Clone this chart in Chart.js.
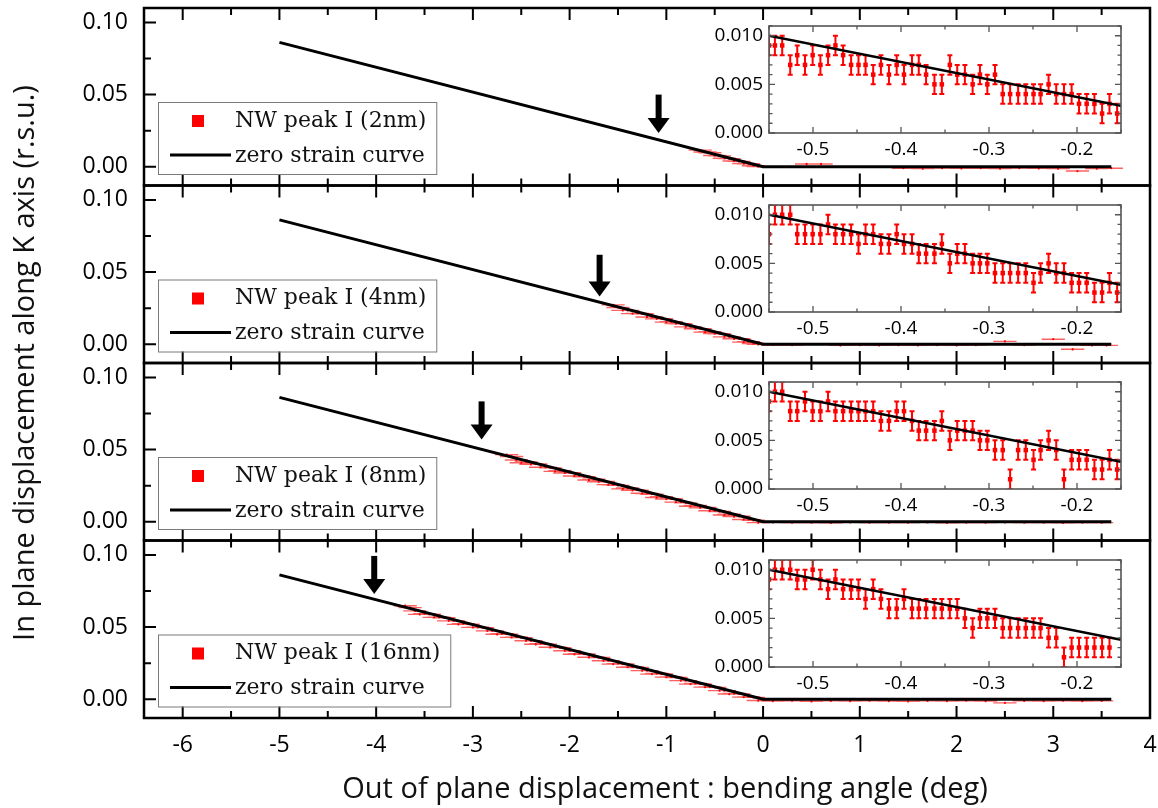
<!DOCTYPE html>
<html>
<head>
<meta charset="utf-8">
<title>NW peak I - in plane vs out of plane displacement</title>
<script src="https://cdn.jsdelivr.net/npm/chart.js@4.4.1/dist/chart.umd.min.js"></script>
<style>
  html, body { margin: 0; padding: 0; background: #fff; }
  #wrap { position: relative; width: 1158px; height: 808px; overflow: hidden; }
  #wrap canvas { position: absolute; }
</style>
</head>
<body>
<div id="wrap">
  <canvas id="main" width="1158" height="808" style="left:0;top:0"></canvas>
  <canvas id="inset0" width="440" height="143"></canvas>
  <canvas id="inset1" width="440" height="143"></canvas>
  <canvas id="inset2" width="440" height="143"></canvas>
  <canvas id="inset3" width="440" height="143"></canvas>
</div>
<script>
// ---- data ----
const peakLabels = ['NW peak I (2nm)', 'NW peak I (4nm)', 'NW peak I (8nm)', 'NW peak I (16nm)'];
const curveLabel = 'zero strain curve';
const xAxisTitle = 'Out of plane displacement : bending angle (deg)';
const yAxisTitle = 'In plane displacement along K axis (r.s.u.)';

const mainXTicks = [-6, -5, -4, -3, -2, -1, 0, 1, 2, 3, 4];
const mainYTicks = [0, 0.05, 0.10];
const insetXTicks = [-0.5, -0.4, -0.3, -0.2];
const insetYTicks = [0, 0.005, 0.010];

// zero strain curve (main panels)
const curveX = [-5, 0, 3.6];
const curveY = [0.0862, 0, 0];

// measured points, main panels (deg, r.s.u.)
const x2nm = [-0.65, -0.60, -0.55, -0.50, -0.45, -0.40, -0.35, -0.30, -0.25, -0.20, -0.15, -0.10, -0.05,
  0.45, 0.6, 1.45, 1.65, 1.85, 2.05, 2.25, 2.45, 2.65, 2.85, 3.05, 3.25, 3.45, 3.6];
const y2nm = [0.0115, 0.0102, 0.0097, 0.0078, 0.0075, 0.0059, 0.0056, 0.0040, 0.0037, 0.0022, 0.0021, 0.0007, 0.0001,
  0.0019, 0.0019, -0.0010, -0.0012, -0.0009, -0.0011, -0.0010, -0.0012, -0.0009, -0.0011, -0.0013, -0.0030, -0.0012, -0.0010];

const x4nm = [-1.55, -1.50, -1.45, -1.40, -1.35, -1.30, -1.25, -1.20, -1.15, -1.10, -1.05, -1.00, -0.95, -0.90, -0.85, -0.80,
  -0.75, -0.70, -0.65, -0.60, -0.55, -0.50, -0.45, -0.40, -0.35, -0.30, -0.25, -0.20, -0.15, -0.10, -0.05,
  0.1, 0.3, 0.8, 1.0, 1.2, 1.4, 1.6, 1.8, 2.0, 2.2, 2.5, 2.7, 3.0, 3.2, 3.4, 3.55];
const y4nm = [0.0273, 0.0255, 0.0235, 0.0235, 0.0212, 0.0214, 0.0211, 0.0189, 0.0189, 0.0176, 0.0177, 0.0153, 0.0156, 0.0143, 0.0142, 0.0120,
  0.0120, 0.0107, 0.0108, 0.0084, 0.0087, 0.0074, 0.0073, 0.0051, 0.0051, 0.0038, 0.0039, 0.0015, 0.0018, 0.0005, -0.0001,
  -0.0005, -0.0006, -0.0008, -0.0006, -0.0008, -0.0006, -0.0007, -0.0006, -0.0008, -0.0006, 0.0020, -0.0006, 0.0035, -0.0035, -0.0008, -0.0008];

const x8nm = [-2.65, -2.60, -2.55, -2.50, -2.45, -2.40, -2.35, -2.30, -2.25, -2.20, -2.15, -2.10, -2.05, -2.00,
  -1.95, -1.90, -1.85, -1.80, -1.75, -1.70, -1.65, -1.60, -1.55, -1.50, -1.45, -1.40, -1.35, -1.30, -1.25, -1.20,
  -1.15, -1.10, -1.05, -1.00, -0.95, -0.90, -0.85, -0.80, -0.75, -0.70, -0.65, -0.60, -0.55, -0.50, -0.45, -0.40,
  -0.35, -0.30, -0.25, -0.20, -0.15, -0.10, -0.05,
  0.1, 0.3, 0.5, 0.7, 0.9, 1.1, 1.3, 1.5, 1.7, 1.9, 2.1, 2.3, 2.5, 2.7, 2.9, 3.1, 3.3, 3.5];
const y8nm = [0.0465, 0.0452, 0.0428, 0.0409, 0.0415, 0.0398, 0.0400, 0.0378, 0.0377, 0.0373, 0.0349, 0.0354, 0.0338, 0.0340,
  0.0317, 0.0317, 0.0312, 0.0289, 0.0294, 0.0277, 0.0280, 0.0257, 0.0256, 0.0252, 0.0228, 0.0234, 0.0217, 0.0219, 0.0197, 0.0196,
  0.0191, 0.0168, 0.0173, 0.0157, 0.0159, 0.0136, 0.0136, 0.0131, 0.0107, 0.0113, 0.0096, 0.0099, 0.0076, 0.0075, 0.0071, 0.0047,
  0.0052, 0.0036, 0.0038, 0.0016, 0.0015, 0.0010, -0.0006,
  -0.0004, -0.0006, -0.0005, -0.0007, -0.0004, -0.0006, -0.0005, -0.0006, -0.0004, -0.0007, -0.0005, -0.0006, -0.0004, -0.0006, -0.0005, -0.0007, -0.0005, -0.0006];

const x16nm = [-3.70, -3.65, -3.60, -3.55, -3.50, -3.45, -3.40, -3.35, -3.30, -3.25, -3.20, -3.15, -3.10, -3.05, -3.00,
  -2.95, -2.90, -2.85, -2.80, -2.75, -2.70, -2.65, -2.60, -2.55, -2.50, -2.45, -2.40, -2.35, -2.30, -2.25, -2.20,
  -2.15, -2.10, -2.05, -2.00, -1.95, -1.90, -1.85, -1.80, -1.75, -1.70, -1.65, -1.60, -1.55, -1.50, -1.45, -1.40,
  -1.35, -1.30, -1.25, -1.20, -1.15, -1.10, -1.05, -1.00, -0.95, -0.90, -0.85, -0.80, -0.75, -0.70, -0.65, -0.60,
  -0.55, -0.50, -0.45, -0.40, -0.35, -0.30, -0.25, -0.20, -0.15, -0.10, -0.05,
  0.1, 0.3, 0.5, 0.7, 0.9, 1.1, 1.3, 1.5, 1.7, 1.9, 2.1, 2.3, 2.5, 2.7, 2.9, 3.1, 3.3, 3.5];
const y16nm = [0.0648, 0.0635, 0.0612, 0.0588, 0.0592, 0.0589, 0.0567, 0.0568, 0.0565, 0.0543, 0.0543, 0.0519, 0.0523, 0.0520, 0.0498,
  0.0499, 0.0496, 0.0474, 0.0474, 0.0450, 0.0454, 0.0451, 0.0429, 0.0430, 0.0427, 0.0405, 0.0405, 0.0381, 0.0385, 0.0382, 0.0360,
  0.0361, 0.0358, 0.0336, 0.0336, 0.0312, 0.0316, 0.0313, 0.0291, 0.0292, 0.0289, 0.0267, 0.0267, 0.0243, 0.0247, 0.0244, 0.0222,
  0.0223, 0.0220, 0.0198, 0.0198, 0.0174, 0.0178, 0.0175, 0.0153, 0.0154, 0.0151, 0.0129, 0.0129, 0.0105, 0.0109, 0.0106, 0.0084,
  0.0085, 0.0082, 0.0060, 0.0060, 0.0036, 0.0040, 0.0037, 0.0015, 0.0016, 0.0013, -0.0009,
  -0.0012, -0.0010, -0.0014, -0.0011, -0.0013, -0.0010, -0.0012, -0.0015, -0.0011, -0.0013, -0.0010, -0.0012, -0.0025, -0.0011, -0.0013, -0.0010, -0.0012, -0.0011];

const mainXErr = 0.12;
const mainYErr = 0.0008;

// arrows marking the onset (deg, r.s.u.)
const arrowX = [-1.08, -1.69, -2.91, -4.02];
const arrowTop = [0.050, 0.062, 0.0834, 0.0993];
const arrowTip = [0.0234, 0.033, 0.057, 0.073];

// insets
const insetX = [-0.550, -0.5433, -0.5350, -0.5259, -0.5179, -0.5091, -0.5004, -0.4916, -0.4829, -0.4745,
  -0.4658, -0.4567, -0.4483, -0.4403, -0.4316, -0.4228, -0.4137, -0.4049, -0.3966, -0.3875,
  -0.3798, -0.3715, -0.3620, -0.3536, -0.3445, -0.3361, -0.3274, -0.3186, -0.3103, -0.3019,
  -0.2932, -0.2844, -0.2760, -0.2669, -0.2582, -0.2494, -0.2414, -0.2323, -0.2236, -0.2148,
  -0.2061, -0.1977, -0.1890, -0.1802, -0.1715, -0.1631, -0.1544];
const inset2nm = [0.009, 0.009, 0.009, 0.007, 0.008, 0.007, 0.008, 0.007, 0.008, 0.009,
  0.008, 0.007, 0.007, 0.007, 0.006, 0.007, 0.006, 0.007, 0.006, 0.007,
  0.007, 0.006, 0.005, 0.005, 0.007, 0.006, 0.006, 0.005, 0.006, 0.005,
  0.006, 0.004, 0.004, 0.004, 0.004, 0.004, 0.004, 0.005, 0.004, 0.004,
  0.004, 0.003, 0.003, 0.003, 0.002, 0.003, 0.002];
const inset4nm = [0.008, 0.010, 0.010, 0.010, 0.008, 0.008, 0.008, 0.008, 0.009, 0.008,
  0.008, 0.008, 0.007, 0.008, 0.008, 0.007, 0.007, 0.008, 0.007, 0.007,
  0.006, 0.006, 0.006, 0.007, 0.005, 0.006, 0.006, 0.005, 0.005, 0.005,
  0.004, 0.004, 0.004, 0.004, 0.004, 0.003, 0.004, 0.005, 0.004, 0.004,
  0.003, 0.003, 0.003, 0.002, 0.002, 0.003, 0.002];
const inset8nm = [0.009, 0.010, 0.010, 0.008, 0.008, 0.009, 0.008, 0.008, 0.009, 0.008,
  0.008, 0.008, 0.008, 0.008, 0.008, 0.007, 0.007, 0.008, 0.008, 0.007,
  0.006, 0.006, 0.006, 0.007, 0.005, 0.006, 0.006, 0.006, 0.005, 0.005,
  0.004, 0.004, 0.001, 0.004, 0.004, 0.003, 0.004, 0.005, 0.004, 0.001,
  0.003, 0.003, 0.003, 0.002, 0.002, 0.003, 0.002];
const inset16nm = [0.009, 0.010, 0.010, 0.010, 0.009, 0.009, 0.010, 0.009, 0.008, 0.009,
  0.008, 0.008, 0.008, 0.007, 0.008, 0.007, 0.006, 0.006, 0.007, 0.006,
  0.006, 0.006, 0.006, 0.006, 0.006, 0.006, 0.005, 0.004, 0.005, 0.005,
  0.005, 0.004, 0.004, 0.004, 0.004, 0.004, 0.004, 0.003, 0.003, 0.001,
  0.002, 0.002, 0.002, 0.002, 0.002, 0.002];
const insetErr = 0.001;
const insetCurveX = [-0.55, -0.15];
const insetCurveY = [0.0100, 0.0028];

const panelX = [x2nm, x4nm, x8nm, x16nm];
const panelY = [y2nm, y4nm, y8nm, y16nm];
const insetY = [inset2nm, inset4nm, inset8nm, inset16nm];

// ---- drawing helpers ----
Chart.defaults.font.family = "'Open Sans', sans-serif";
Chart.defaults.color = '#000';
Chart.defaults.animation = false;

const errorBars = {
  id: 'errorBars',
  beforeDatasetDraw(chart, args) {
    const ds = chart.data.datasets[args.index];
    if (!ds.err) return;
    const xs = chart.scales[args.meta.xAxisID];
    const ys = chart.scales[args.meta.yAxisID];
    const ca = chart.chartArea;
    const ctx = chart.ctx;
    ctx.save();
    ctx.beginPath();
    ctx.rect(ca.left, ca.top, ca.right - ca.left, ca.bottom - ca.top);
    ctx.clip();
    ctx.strokeStyle = ds.err.color;
    ctx.lineWidth = ds.err.width;
    ctx.beginPath();
    ds.data.forEach(d => {
      const px = xs.getPixelForValue(d.x);
      const py = ys.getPixelForValue(d.y);
      if (ds.err.x) {
        ctx.moveTo(xs.getPixelForValue(d.x - ds.err.x), py);
        ctx.lineTo(xs.getPixelForValue(d.x + ds.err.x), py);
      }
      if (ds.err.y) {
        const a = ys.getPixelForValue(d.y - ds.err.y);
        const b = ys.getPixelForValue(d.y + ds.err.y);
        ctx.moveTo(px, a); ctx.lineTo(px, b);
        if (ds.err.cap) {
          ctx.moveTo(px - ds.err.cap, a); ctx.lineTo(px + ds.err.cap, a);
          ctx.moveTo(px - ds.err.cap, b); ctx.lineTo(px + ds.err.cap, b);
        }
      }
    });
    ctx.stroke();
    ctx.restore();
  }
};

// frame with inward major/minor ticks
function drawFrame(ctx, xs, ys, o) {
  const l = xs.left, r = xs.right, t = ys.top, b = ys.bottom;
  ctx.save();
  ctx.strokeStyle = o.color;
  ctx.lineWidth = o.tickWidth;
  ctx.beginPath();
  const n0 = Math.ceil(xs.min / o.xMinor - 1e-6), n1 = Math.floor(xs.max / o.xMinor + 1e-6);
  for (let n = n0; n <= n1; n++) {
    const v = n * o.xMinor;
    const px = xs.getPixelForValue(v);
    const major = Math.abs(v / o.xMajor - Math.round(v / o.xMajor)) < 1e-6;
    const len = major ? o.major : o.minor;
    ctx.moveTo(px, t); ctx.lineTo(px, t + len);
    ctx.moveTo(px, b); ctx.lineTo(px, b - len);
  }
  const m0 = Math.ceil(ys.min / o.yMinor - 1e-6), m1 = Math.floor(ys.max / o.yMinor + 1e-6);
  for (let n = m0; n <= m1; n++) {
    const v = n * o.yMinor;
    const py = ys.getPixelForValue(v);
    const major = Math.abs(v / o.yMajor - Math.round(v / o.yMajor)) < 1e-6;
    const len = major ? o.major : o.minor;
    ctx.moveTo(l, py); ctx.lineTo(l + len, py);
    if (o.right) { ctx.moveTo(r, py); ctx.lineTo(r - len, py); }
  }
  ctx.stroke();
  ctx.lineWidth = o.frameWidth;
  ctx.strokeRect(l, t, r - l, b - t);
  ctx.restore();
}

const mainDecor = {
  id: 'mainDecor',
  afterDraw(chart) {
    const ctx = chart.ctx;
    const xs = chart.scales.x;
    peakLabels.forEach((label, p) => {
      const ys = chart.scales['y' + p];
      drawFrame(ctx, xs, ys, {color: '#000', tickWidth: 2, frameWidth: 2.5, major: 12, minor: 7,
        xMajor: 1, xMinor: 0.5, yMajor: 0.05, yMinor: 0.025, right: false});

      // arrow
      const ax = xs.getPixelForValue(arrowX[p]);
      const at = ys.getPixelForValue(arrowTop[p]);
      const tip = ys.getPixelForValue(arrowTip[p]);
      ctx.save();
      ctx.fillStyle = '#000';
      ctx.fillRect(ax - 3, at, 6, tip - at - 12);
      ctx.beginPath();
      ctx.moveTo(ax - 11, tip - 15);
      ctx.lineTo(ax + 11, tip - 15);
      ctx.lineTo(ax, tip);
      ctx.closePath();
      ctx.fill();
      ctx.restore();

      // legend box
      const bx = 158, by = ys.top + 94;
      ctx.save();
      ctx.font = "22px 'DejaVu Serif', serif";
      const tw = Math.max(ctx.measureText(label).width, ctx.measureText(curveLabel).width);
      const bw = 77 + tw + 10, bh = 72;
      ctx.fillStyle = '#fff';
      ctx.fillRect(bx, by, bw, bh);
      ctx.strokeStyle = '#7a7a7a';
      ctx.lineWidth = 1;
      ctx.strokeRect(bx + 0.5, by + 0.5, bw, bh);
      ctx.fillStyle = '#ff0000';
      ctx.fillRect(bx + 34, by + 13, 12, 12);
      ctx.strokeStyle = '#000';
      ctx.lineWidth = 3;
      ctx.beginPath();
      ctx.moveTo(bx + 12, by + 53); ctx.lineTo(bx + 73, by + 53);
      ctx.stroke();
      ctx.fillStyle = '#111';
      ctx.textBaseline = 'middle';
      ctx.fillText(label, bx + 77, by + 19);
      ctx.fillText(curveLabel, bx + 77, by + 54);
      ctx.restore();
    });

    const ca = chart.chartArea;
    ctx.save();
    ctx.font = "29px 'Open Sans', sans-serif";
    ctx.fillStyle = '#111';
    ctx.textAlign = 'center';
    ctx.textBaseline = 'middle';
    // shared x title, a little right of the plot centre as in the original
    ctx.fillText(xAxisTitle, (ca.left + ca.right) / 2 + 18, ca.bottom + 72);
    // shared y title
    ctx.translate(26, (ca.top + ca.bottom) / 2);
    ctx.rotate(-Math.PI / 2);
    ctx.fillText(yAxisTitle, 0, 0);
    ctx.restore();
  }
};

const insetDecor = {
  id: 'insetDecor',
  afterDraw(chart) {
    drawFrame(chart.ctx, chart.scales.x, chart.scales.y, {color: '#555', tickWidth: 1.3, frameWidth: 1.6,
      major: 6, minor: 3.5, xMajor: 0.1, xMinor: 0.05, yMajor: 0.005, yMinor: 0.001, right: true});
  }
};

const setTicks = values => s => { s.ticks = values.map(v => ({value: v})); };

// ---- main chart: four stacked panels sharing the x axis ----
const datasets = [];
const scales = {
  x: {
    type: 'linear', position: 'bottom', min: -6.4, max: 4,
    grid: {display: false, drawTicks: false}, border: {display: false},
    ticks: {padding: 14, font: {size: 23}, color: '#000', callback: v => String(Math.round(v))},
    afterBuildTicks: setTicks(mainXTicks),
    afterFit(s) { s.height = 90; s.paddingLeft = 0; s.paddingRight = 0; }
  }
};
peakLabels.forEach((label, p) => {
  const yid = 'y' + p;
  scales[yid] = {
    type: 'linear', position: 'left', stack: 'panels', stackWeight: 1, weight: 4 - p,
    min: -0.013, max: 0.11,
    grid: {display: false, drawTicks: false}, border: {display: false},
    ticks: {padding: 16, font: {size: 23}, color: '#000', callback: v => v.toFixed(2)},
    afterBuildTicks: setTicks(mainYTicks),
    afterFit(s) { s.width = 144; s.paddingTop = 0; s.paddingBottom = 0; }
  };
  datasets.push({
    type: 'line', label: curveLabel, yAxisID: yid, order: 0,
    data: curveX.map((x, i) => ({x, y: curveY[i]})),
    borderColor: '#000', borderWidth: 3, pointRadius: 0, fill: false
  });
  datasets.push({
    type: 'scatter', label: label, yAxisID: yid, order: 1,
    data: panelX[p].map((x, i) => ({x, y: panelY[p][i]})),
    pointStyle: 'rect', pointRadius: 1.3, backgroundColor: '#ff0000', borderWidth: 0,
    err: {x: mainXErr, y: mainYErr, color: 'rgba(255,30,30,0.7)', width: 1.4}
  });
});

new Chart(document.getElementById('main'), {
  type: 'scatter',
  data: {datasets},
  options: {
    responsive: false,
    animation: false,
    layout: {padding: {top: 8, right: 8, left: 0, bottom: 0}},
    plugins: {legend: {display: false}, tooltip: {enabled: false}},
    scales
  },
  plugins: [errorBars, mainDecor]
});

// ---- insets ----
const insetLeft = 769;
const insetTops = [26, 205, 382, 560];
insetY.forEach((ys, p) => {
  const canvas = document.getElementById('inset' + p);
  canvas.style.left = (insetLeft - 80) + 'px';
  canvas.style.top = (insetTops[p] - 6) + 'px';
  new Chart(canvas, {
    type: 'scatter',
    data: {datasets: [
      {type: 'line', order: 0, data: insetCurveX.map((x, i) => ({x, y: insetCurveY[i]})),
        borderColor: '#000', borderWidth: 2.5, pointRadius: 0, fill: false},
      {type: 'scatter', order: 1, data: ys.map((y, i) => ({x: insetX[i], y})),
        pointStyle: 'rect', pointRadius: 3.2, backgroundColor: '#ff0000', borderWidth: 0,
        err: {y: insetErr, cap: 2.5, color: '#ff0000', width: 2}}
    ]},
    options: {
      responsive: false,
      animation: false,
      layout: {padding: {top: 6, right: 8, left: 0, bottom: 0}},
      plugins: {legend: {display: false}, tooltip: {enabled: false}},
      scales: {
        x: {type: 'linear', min: -0.55, max: -0.15,
          grid: {display: false, drawTicks: false}, border: {display: false},
          ticks: {padding: 5, font: {size: 19}, color: '#000', callback: v => v.toFixed(1)},
          afterBuildTicks: setTicks(insetXTicks),
          afterFit(s) { s.height = 30; s.paddingLeft = 0; s.paddingRight = 0; }},
        y: {type: 'linear', min: 0, max: 0.011,
          grid: {display: false, drawTicks: false}, border: {display: false},
          ticks: {padding: 6, font: {size: 19}, color: '#000', callback: v => v.toFixed(3)},
          afterBuildTicks: setTicks(insetYTicks),
          afterFit(s) { s.width = 80; s.paddingTop = 0; s.paddingBottom = 0; }}
      }
    },
    plugins: [errorBars, insetDecor]
  });
});
</script>
</body>
</html>
